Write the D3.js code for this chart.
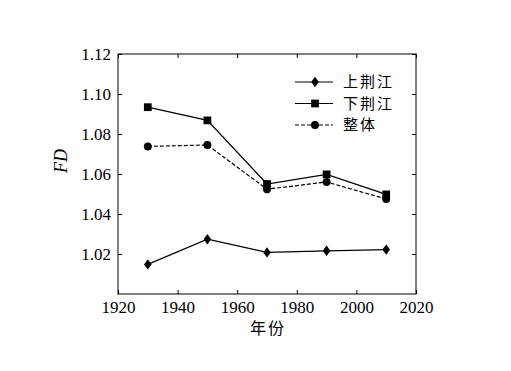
<!DOCTYPE html>
<html><head><meta charset="utf-8">
<script src="https://cdn.jsdelivr.net/npm/d3@7"></script>
<style>
html,body{margin:0;padding:0;background:#fff;}
svg{display:block;}
</style></head>
<body>
<script>
const years = [1930, 1950, 1970, 1990, 2010];
const upper = [1.0148, 1.0274, 1.0208, 1.0216, 1.0222];
const lower = [1.0934, 1.0868, 1.0550, 1.0598, 1.0498];
const whole = [1.0738, 1.0745, 1.0524, 1.0560, 1.0475];
const seriesNames = ["上荆江", "下荆江", "整体"];
const xTicks = [1920, 1940, 1960, 1980, 2000, 2020];
const yTicks = [1.02, 1.04, 1.06, 1.08, 1.10, 1.12];
const xTitle = "年份";
const yTitle = "FD";

const W = 511, H = 371;
const m = {left: 118, right: 95, top: 54, bottom: 77};
const iw = W - m.left - m.right, ih = H - m.top - m.bottom;

const svg = d3.select("body").append("svg").attr("width", W).attr("height", H);
const g = svg.append("g").attr("transform", `translate(${m.left},${m.top})`);

const x = d3.scaleLinear().domain([1920, 2020]).range([0, iw]);
const y = d3.scaleLinear().domain([1.00, 1.12]).range([ih, 0]);

const serif = "'Liberation Serif','Times New Roman',serif";
const cjk = "'Noto Sans CJK SC','Noto Sans CJK JP',sans-serif";

function styleAxis(sel, labels) {
  sel.select(".domain").remove();
  sel.selectAll("line").attr("stroke", "#000").attr("stroke-width", 1);
  sel.selectAll("text").attr("fill", "#000").style("font-family", serif).style("font-size", "17px");
  if (!labels) sel.selectAll("text").remove();
}

g.append("g").attr("transform", `translate(0,${ih})`)
  .call(d3.axisBottom(x).tickValues(xTicks).tickFormat(d3.format("d")).tickSizeInner(-4).tickSizeOuter(0).tickPadding(7))
  .call(s => styleAxis(s, true));
g.append("g")
  .call(d3.axisTop(x).tickValues(xTicks).tickSizeInner(-4).tickSizeOuter(0))
  .call(s => styleAxis(s, false));
g.append("g")
  .call(d3.axisLeft(y).tickValues(yTicks).tickFormat(d3.format(".2f")).tickSizeInner(-4).tickSizeOuter(0).tickPadding(7))
  .call(s => styleAxis(s, true));
g.append("g").attr("transform", `translate(${iw},0)`)
  .call(d3.axisRight(y).tickValues(yTicks).tickSizeInner(-4).tickSizeOuter(0))
  .call(s => styleAxis(s, false));

g.append("rect").attr("x", 0).attr("y", 0).attr("width", iw).attr("height", ih)
  .attr("fill", "none").attr("stroke", "#000").attr("stroke-width", 1);

const diamond = d3.symbol().type({draw(ctx, size){ const w=3.8, h=5.2; ctx.moveTo(0,-h); ctx.lineTo(w,0); ctx.lineTo(0,h); ctx.lineTo(-w,0); ctx.closePath(); }})();
const square = d3.symbol().type(d3.symbolSquare).size(60)();
const circle = d3.symbol().type(d3.symbolCircle).size(50)();

const series = [
  {name: seriesNames[0], vals: upper, marker: diamond, dash: null},
  {name: seriesNames[1], vals: lower, marker: square, dash: null},
  {name: seriesNames[2], vals: whole, marker: circle, dash: "4,2"}
];

const line = d3.line().x(d => x(d[0])).y(d => y(d[1]));

series.forEach(s => {
  const pts = years.map((yr, i) => [yr, s.vals[i]]);
  g.append("path").datum(pts).attr("d", line)
    .attr("fill", "none").attr("stroke", "#000").attr("stroke-width", 1.2)
    .attr("stroke-dasharray", s.dash);
  g.selectAll(null).data(pts).enter().append("path")
    .attr("d", s.marker)
    .attr("transform", d => `translate(${x(d[0])},${y(d[1])})`)
    .attr("fill", "#000");
});

// legend
const leg = svg.append("g").attr("transform", "translate(295,82)");
series.forEach((s, i) => {
  const row = leg.append("g").attr("transform", `translate(0,${i * 21.5})`);
  row.append("line").attr("x1", 0).attr("x2", 38).attr("y1", 0).attr("y2", 0)
    .attr("stroke", "#000").attr("stroke-width", 1.2).attr("stroke-dasharray", s.dash);
  row.append("path").attr("d", s.marker).attr("transform", "translate(20,0)").attr("fill", "#000");
  row.append("text").attr("x", 48).attr("y", 0).attr("dy", "0.36em")
    .style("font-family", cjk).style("font-size", "15px").style("letter-spacing", "2px")
    .attr("fill", "#000").text(s.name);
});

// axis titles
svg.append("text").attr("x", m.left + iw / 2 + 1).attr("y", 334)
  .attr("text-anchor", "middle")
  .style("font-family", cjk).style("font-size", "16px").style("letter-spacing", "2px")
  .attr("fill", "#000").text(xTitle);
svg.append("text").attr("transform", "translate(67,161) rotate(-90)")
  .attr("text-anchor", "middle")
  .style("font-family", serif).style("font-size", "18px").style("font-style", "italic")
  .attr("fill", "#000").text(yTitle);
</script>
</body></html>
